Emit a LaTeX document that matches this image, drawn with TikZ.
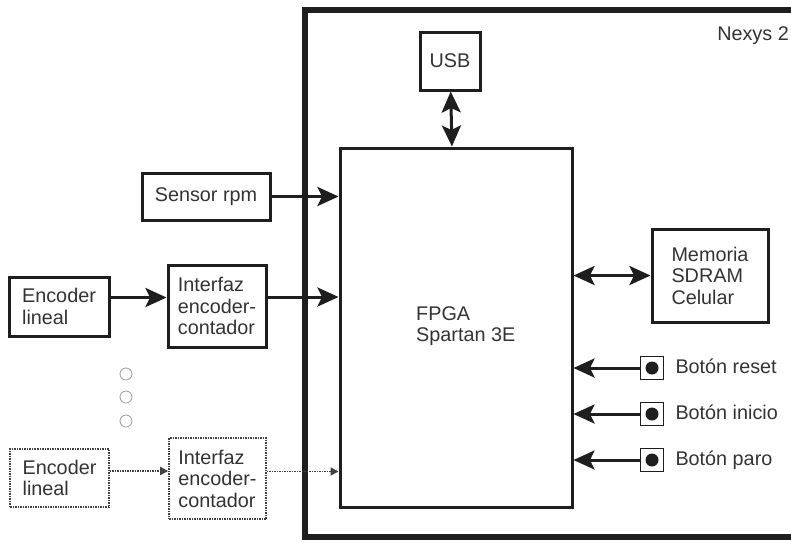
\documentclass[tikz,border=0pt]{standalone}
\usepackage{fontspec}
\setmainfont{Liberation Sans}
\usepackage{tikz}
\usetikzlibrary{arrows.meta, positioning, calc}
\definecolor{ink}{HTML}{1E1E1E}
\definecolor{txt}{HTML}{333333}
\tikzstyle{arrow} = [ink, line width=3pt, -{Stealth[length=21pt, width=19pt, inset=4.5pt]}]

\begin{document}
\begin{tikzpicture}[
	x=1pt, y=-1pt,
	font=\fontsize{19.8}{21.5}\selectfont,
	text=txt,
	board/.style={draw=ink, line width=6pt, rectangle},
	block/.style={draw=ink, line width=3pt, rectangle, align=left, inner sep=0pt},
	ghost/.style={draw=gray!50!black, line width=1.6pt, dash pattern=on 1.5pt off 1pt, rectangle, align=left, inner sep=0pt},
	button/.style={draw=ink, line width=1.6pt, rectangle, minimum size=23pt, inner sep=0pt,
		path picture={\fill[ink] (path picture bounding box.center) circle (6.5pt);}},
	btnlabel/.style={anchor=west, inner sep=0pt, text height=14pt, text depth=4pt},
	gap/.style={draw=gray!80, line width=0.8pt, circle, minimum size=12pt, inner sep=0pt},
	pointer/.style={arrow},
	twoway/.style={arrow, {Stealth[length=21pt, width=19pt, inset=4.5pt]}-{Stealth[length=21pt, width=19pt, inset=4.5pt]}},
	faint/.style={gray!50!black, line width=1.6pt, dash pattern=on 1.5pt off 1pt, -{Triangle[length=8pt, width=8pt]}}
]
\useasboundingbox (0,0) rectangle (791,542);

% placa
\node[board, minimum width=530pt, minimum height=527pt] (nexys) at (570,273.5) {};
\node[anchor=base east, inner sep=0pt] (nexyslbl) at (789,40) {Nexys 2};

\node[block, minimum width=232pt, minimum height=359pt] (fpga) at (456,327.5) {};
\node[anchor=north west, inner sep=0pt, align=left] (fpgalbl) at (416,306) {FPGA\\Spartan 3E};

\node[block, minimum width=60pt, minimum height=58pt, align=center] (usb) at (450,61) {USB};
\node[block, minimum width=116pt, minimum height=93pt] (mem) at (710,275.5) {Memoria\\SDRAM\\Celular};

% entradas
\node[block, minimum width=128pt, minimum height=47pt, align=center] (sensor) at (206,196.5) {Sensor rpm};
\node[block, minimum width=100pt, minimum height=59pt] (enc) at (59,306.5) {Encoder\\lineal};
\node[block, minimum width=98pt, minimum height=82pt] (intf) at (217,306) {Interfaz\\encoder-\\contador};

\node[gap] (dot1) at (126,374) {};
\node[gap] (dot2) at (126,397) {};
\node[gap] (dot3) at (126,421) {};

\node[ghost, minimum width=99pt, minimum height=58pt] (encn) at (59.5,478) {Encoder\\lineal};
\node[ghost, minimum width=97pt, minimum height=81pt] (intfn) at (217.5,478.5) {Interfaz\\encoder-\\contador};

% botones
\node[button] (reset) at (652,368) {};
\node[button] (start) at (652,414) {};
\node[button] (halt) at (652,460) {};
\node[btnlabel, right=11pt of reset] (resetlbl) {Botón reset};
\node[btnlabel, right=11pt of start] (startlbl) {Botón inicio};
\node[btnlabel, right=11pt of halt] (haltlbl) {Botón paro};

\draw[twoway] (usb) -- (fpga);
\draw[twoway] (fpga.east |- mem.west) -- (mem.west);
\draw[pointer] (sensor.east) -- (sensor.east -| fpga.west);
\draw[pointer] ([yshift=9pt]enc.east) -- ([yshift=9pt]enc.east -| intf.west);
\draw[pointer] ([yshift=9pt]intf.east) -- ([yshift=9pt]intf.east -| fpga.west);
\draw[faint] ([yshift=7pt]encn.east) -- ([yshift=7pt]encn.east -| intfn.west);
\draw[faint] ([yshift=7pt]intfn.east) -- ([yshift=7pt]intfn.east -| fpga.west);
\draw[pointer] (reset.west) -- (reset.west -| fpga.east);
\draw[pointer] (start.west) -- (start.west -| fpga.east);
\draw[pointer] (halt.west) -- (halt.west -| fpga.east);

\end{tikzpicture}
\end{document}
